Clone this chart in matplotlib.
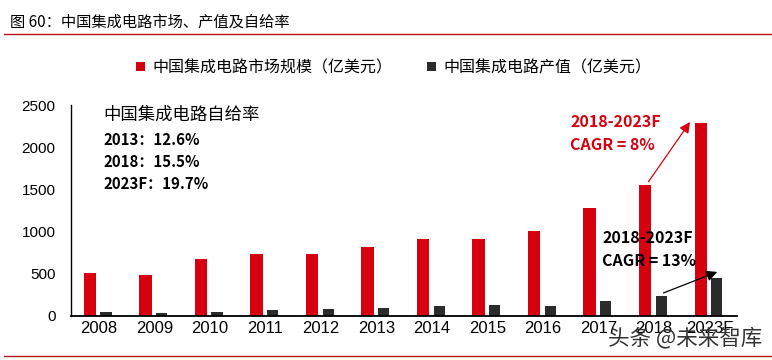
import matplotlib
matplotlib.use('Agg')
import matplotlib.pyplot as plt
import numpy as np

plt.rcParams['font.family'] = ['Liberation Sans', 'Noto Sans CJK SC', 'DejaVu Sans']

years = ['2008', '2009', '2010', '2011', '2012', '2013', '2014', '2015',
         '2016', '2017', '2018', '2023F']
market = [505, 485, 675, 735, 735, 820, 915, 915, 1005, 1280, 1550, 2290]
output = [40, 30, 50, 70, 80, 95, 110, 125, 120, 180, 235, 450]

RED = '#d7000f'
DARK = '#2b2b2b'
CJK = ['Noto Sans CJK SC', 'DejaVu Sans']

fig = plt.figure(figsize=(7.72, 3.6), dpi=100)
ax = fig.add_axes([0.092, 0.123, 0.863, 0.585])

x = np.arange(len(years))
ax.bar(x - 0.16, market, width=0.22, color=RED, label='中国集成电路市场规模（亿美元）')
ax.bar(x + 0.13, output, width=0.2, color=DARK, label='中国集成电路产值（亿美元）')

ax.set_xlim(-0.5, len(years) - 0.5)
ax.set_ylim(0, 2500)
ax.set_yticks(range(0, 2501, 500))
ax.set_xticks(x)
ax.set_xticklabels(years)
ax.tick_params(axis='x', labelsize=12, length=0, pad=4)
ax.tick_params(axis='y', labelsize=11, length=0, pad=11)
for s in ['top', 'right']:
    ax.spines[s].set_visible(False)
ax.spines['left'].set_linewidth(1.0)
ax.spines['bottom'].set_linewidth(1.3)

# legend
fig.legend(loc='center', bbox_to_anchor=(0.51, 0.812), ncol=2, frameon=False,
           prop={'family': CJK, 'size': 11.5}, handlelength=0.55, handleheight=0.55,
           handletextpad=0.45, columnspacing=2.2)

# self-sufficiency block
ax.text(0.08, 2390, '中国集成电路自给率', fontsize=12.5, family=CJK, va='center')
for i, t in enumerate(['2013：12.6%', '2018：15.5%', '2023F：19.7%']):
    ax.text(0.08, 2090 - i * 262, t, fontsize=10.8, fontweight='bold',
            family=CJK, va='center')

# CAGR annotations
ax.text(8.49, 2165, '2018-2023F\nCAGR = 8%', fontsize=11.5, fontweight='bold',
        color=RED, family=CJK, va='center', linespacing=1.55)
ax.annotate('', xy=(10.65, 2300), xytext=(9.9, 1590),
            arrowprops=dict(arrowstyle='-|>', color=RED, lw=0.9, mutation_scale=16,
                            shrinkA=0, shrinkB=0))
ax.text(9.07, 785, '2018-2023F\nCAGR = 13%', fontsize=11.5, fontweight='bold',
        color='black', family=CJK, va='center', linespacing=1.55)
ax.annotate('', xy=(11.14, 520), xytext=(10.17, 270),
            arrowprops=dict(arrowstyle='-|>', color='black', lw=0.9, mutation_scale=16,
                            shrinkA=0, shrinkB=0))

# title and rules
fig.text(0.013, 0.938, '图 60：中国集成电路市场、产值及自给率', fontsize=11,
         family=CJK, va='center')
fig.add_artist(plt.Line2D([0.005, 1.0], [0.905, 0.905], color='#b5151b', lw=1))
fig.add_artist(plt.Line2D([0.005, 1.0], [0.012, 0.012], color='#b5151b', lw=1))

# watermark
fig.text(0.988, 0.06, '头条 @未来智库', fontsize=15.5, family=CJK, ha='right',
         va='center', color='#333333')

fig.savefig('out.png', dpi=100, facecolor='white')
